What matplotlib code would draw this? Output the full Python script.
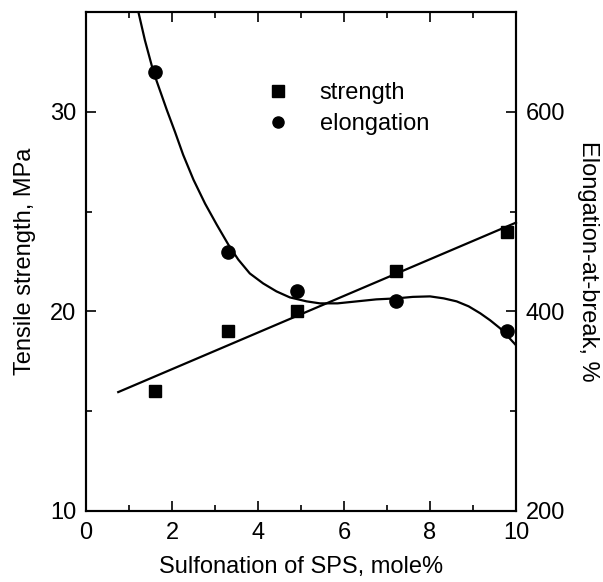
import matplotlib
matplotlib.use('Agg')
import matplotlib.pyplot as plt
from matplotlib.ticker import MultipleLocator
from matplotlib.lines import Line2D

plt.rcParams['font.family'] = ['Liberation Sans', 'DejaVu Sans']

# measured points
sulf = [1.6, 3.3, 4.9, 7.2, 9.8]
strength = [16.0, 19.0, 20.0, 22.0, 24.0]
elongation = [640, 460, 420, 410, 380]

# fitted lines
strength_fit_x = [0.75, 10.0]
strength_fit_y = [15.95, 24.45]
elong_curve_x = [1.22, 1.37, 1.57, 1.88, 2.07, 2.26, 2.50, 2.77, 3.04, 3.31,
                 3.54, 3.81, 4.12, 4.43, 4.74, 5.13, 5.44, 5.85, 6.30, 6.75,
                 7.22, 7.60, 8.00, 8.32, 8.62, 8.90, 9.17, 9.40, 9.63, 9.85,
                 10.0]
elong_curve_y = [700, 672, 640, 602, 580, 557, 532, 508, 487, 467,
                 452, 438, 428, 420, 414, 410, 408, 408, 410, 412,
                 413, 414.5, 415, 413, 410, 405, 398, 391, 383, 373,
                 366]

fig = plt.figure(figsize=(6.03, 5.82), dpi=100)
ax = fig.add_axes([0.1426, 0.1225, 0.7131, 0.8564])
ax2 = ax.twinx()

ax.plot(strength_fit_x, strength_fit_y, color='black', lw=1.6, clip_on=False)
ax.plot(sulf, strength, 's', color='black', ms=9, clip_on=False)
ax2.plot(elong_curve_x, elong_curve_y, color='black', lw=1.6)
ax2.plot(sulf, elongation, 'o', color='black', ms=9.5, clip_on=False)

ax.set_xlim(0, 10)
ax.set_ylim(10, 35)
ax2.set_ylim(200, 700)

ax.xaxis.set_major_locator(MultipleLocator(2))
ax.xaxis.set_minor_locator(MultipleLocator(1))
ax.yaxis.set_major_locator(MultipleLocator(10))
ax.yaxis.set_minor_locator(MultipleLocator(5))
ax2.yaxis.set_major_locator(MultipleLocator(200))
ax2.yaxis.set_minor_locator(MultipleLocator(100))

ax.tick_params(which='both', direction='in', top=True, right=False,
               labelsize=17, width=1.2)
ax.tick_params(which='major', length=7, pad=7)
ax.tick_params(axis='x', which='major', pad=8)
ax.tick_params(which='minor', length=4.5)
ax2.tick_params(which='both', direction='in', labelsize=17, width=1.2)
ax2.tick_params(which='major', length=7, pad=7)
ax2.tick_params(which='minor', length=4.5)

for a in (ax, ax2):
    for s in a.spines.values():
        s.set_linewidth(1.5)

ax.set_xlabel('Sulfonation of SPS, mole%', fontsize=17, labelpad=9)
ax.set_ylabel('Tensile strength, MPa', fontsize=17, labelpad=10)
ax2.set_ylabel('Elongation-at-break, %', fontsize=17, rotation=270, labelpad=24)

handles = [Line2D([], [], ls='none', marker='s', color='black', ms=8),
           Line2D([], [], ls='none', marker='o', color='black', ms=8)]
ax.legend(handles, ['strength', 'elongation'], loc='upper left',
          bbox_to_anchor=(0.365, 0.902), frameon=False, fontsize=17,
          handletextpad=1.15, labelspacing=0.38, handlelength=1.2)

fig.savefig('out.png', dpi=100)
